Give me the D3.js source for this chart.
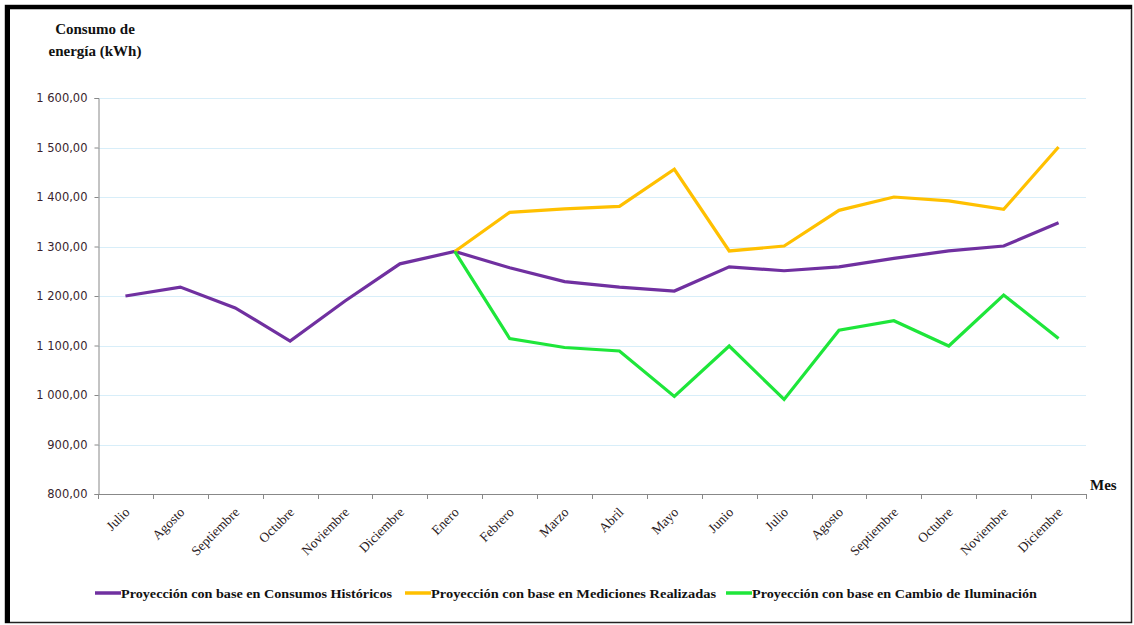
<!DOCTYPE html>
<html><head><meta charset="utf-8">
<script src="https://cdn.jsdelivr.net/npm/d3@7"></script>
<style>body{margin:0;background:#fff}svg{display:block}</style>
</head><body>
<svg id="c" width="1134" height="625"></svg>
<script>
const months = ["Julio","Agosto","Septiembre","Octubre","Noviembre","Diciembre","Enero","Febrero","Marzo","Abril","Mayo","Junio","Julio","Agosto","Septiembre","Octubre","Noviembre","Diciembre"];
const historicos = [1200,1218,1176,1109,1190,1265,1290,1257,1229,1218,1210,1259,1251,1259,1276,1291,1301,1348];
const mediciones = [null,null,null,null,null,null,1290,1369,1376,1381,1456,1291,1301,1373,1400,1392,1375,1501];
const iluminacion = [null,null,null,null,null,null,1290,1114,1096,1089,997,1099,991,1131,1150,1099,1202,1114];
const yTicks = [800,900,1000,1100,1200,1300,1400,1500,1600];
const seriesNames = ["Proyección con base en Consumos Históricos","Proyección con base en Mediciones Realizadas","Proyección con base en Cambio de Iluminación"];
const colors = ["#7030a0","#ffc000","#1ee63a"];

const svg = d3.select("#c");
const L=98, R=1086, T=98, B=494;
const x = d3.scaleBand().domain(d3.range(months.length)).range([L,R]);
const y = d3.scaleLinear().domain([800,1600]).range([B,T]);
const fmt = v => { const s = d3.format(",.2f")(v); return s.replace(/,/g," ").replace(".",","); };
const tf = "'Liberation Serif', 'DejaVu Serif', serif";

// frame
svg.append("rect").attr("x",5.5).attr("y",5.5).attr("width",1126).attr("height",617).attr("fill","none").attr("stroke","#222").attr("stroke-width",1.5);
svg.append("line").attr("x1",5).attr("x2",1132).attr("y1",7).attr("y2",7).attr("stroke","#000").attr("stroke-width",4);
svg.append("line").attr("x1",7.5).attr("x2",7.5).attr("y1",5).attr("y2",623).attr("stroke","#000").attr("stroke-width",5);
svg.append("line").attr("x1",10).attr("x2",1130).attr("y1",9.5).attr("y2",9.5).attr("stroke","#bbb").attr("stroke-width",1);

// gridlines
svg.append("g").selectAll("line").data(yTicks.filter(d=>d>800)).join("line")
  .attr("x1",L).attr("x2",R).attr("y1",d=>Math.round(y(d))+0.5).attr("y2",d=>Math.round(y(d))+0.5)
  .attr("stroke","#d8eef9").attr("stroke-width",1.2);

// y axis
const ya = svg.append("g").attr("transform",`translate(${L+0.5},0)`)
  .call(d3.axisLeft(y).tickValues(yTicks).tickFormat(fmt).tickSize(4).tickPadding(7));
ya.select(".domain").attr("stroke","#888");
ya.selectAll(".tick line").attr("stroke","#888");
ya.selectAll("text").attr("font-family","'DejaVu Sans', sans-serif").attr("font-size",11.5).attr("fill","#3a1f2e");

// x axis
const bounds = d3.range(months.length+1).map(i=>L+i*x.bandwidth());
const xa = svg.append("g");
xa.append("line").attr("x1",L).attr("x2",R).attr("y1",B+0.5).attr("y2",B+0.5).attr("stroke","#888");
xa.selectAll(".tk").data(bounds).join("line").attr("class","tk")
  .attr("x1",d=>Math.round(d)+0.5).attr("x2",d=>Math.round(d)+0.5).attr("y1",B).attr("y2",B+5).attr("stroke","#888");
xa.selectAll("text").data(months).join("text")
  .attr("transform",(d,i)=>`translate(${x(i)+x.bandwidth()/2+5},${B+19}) rotate(-45)`)
  .attr("text-anchor","end").attr("font-family",tf).attr("font-size",13.5)
  .attr("fill","#2a1a22").text(d=>d);

// lines
const lineIdx = d3.line().defined(d=>d.v!=null).x(d=>x(d.i)+x.bandwidth()/2).y(d=>y(d.v));
[historicos,mediciones,iluminacion].forEach((s,k)=>{
  const pts = s.map((v,i)=>({i,v}));
  svg.append("path").datum(pts).attr("d",lineIdx).attr("fill","none")
    .attr("stroke",colors[k]).attr("stroke-width",3.2).attr("stroke-linejoin","miter");
});

// title
svg.append("text").attr("x",95).attr("y",34).attr("text-anchor","middle").attr("font-family",tf)
  .attr("font-weight","bold").attr("font-size",15).attr("fill","#111").text("Consumo de");
svg.append("text").attr("x",95).attr("y",56).attr("text-anchor","middle").attr("font-family",tf)
  .attr("font-weight","bold").attr("font-size",15).attr("fill","#111").text("energía (kWh)");
svg.append("text").attr("x",1090).attr("y",490).attr("font-family",tf)
  .attr("font-weight","bold").attr("font-size",15).attr("fill","#111").text("Mes");

// legend
const legX = [95,405,726], legW=[271,285,285];
seriesNames.forEach((n,k)=>{
  svg.append("line").attr("x1",legX[k]).attr("x2",legX[k]+26).attr("y1",593).attr("y2",593)
    .attr("stroke",colors[k]).attr("stroke-width",3.5);
  svg.append("text").attr("x",legX[k]+26).attr("y",597.5).attr("font-family",tf)
    .attr("font-weight","bold").attr("font-size",13.5).attr("fill","#111")
    .attr("textLength",legW[k]).attr("lengthAdjust","spacingAndGlyphs").text(n);
});
</script>
</body></html>
